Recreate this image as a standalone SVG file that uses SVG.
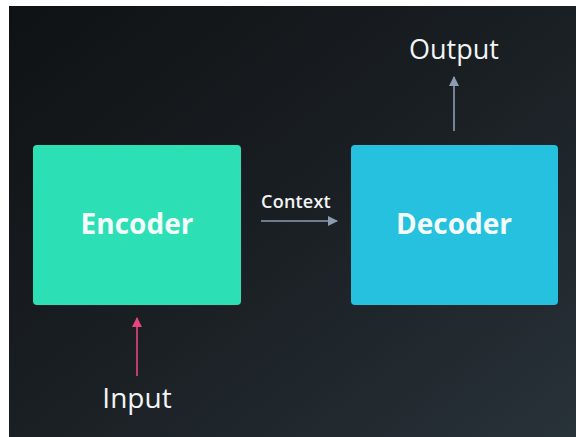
<svg xmlns="http://www.w3.org/2000/svg" width="576" height="437" viewBox="0 0 576 437">
<defs>
<linearGradient id="bg" x1="0" y1="0" x2="1" y2="1">
<stop offset="0" stop-color="#0f1215"/>
<stop offset="0.5" stop-color="#1a1f23"/>
<stop offset="1" stop-color="#283239"/>
</linearGradient>
<marker id="ahGray" viewBox="0 0 10 10" refX="9" refY="5" markerWidth="10" markerHeight="10" markerUnits="userSpaceOnUse" orient="auto"><path d="M0,0 L10,5 L0,10 z" fill="#8c9cb3"/></marker>
<marker id="ahPink" viewBox="0 0 10 10" refX="9" refY="5" markerWidth="10" markerHeight="10" markerUnits="userSpaceOnUse" orient="auto"><path d="M0,0 L10,5 L0,10 z" fill="#e8457f"/></marker>
</defs>
<style>
.lbl{font-family:"Open Sans","Noto Sans",sans-serif;fill:#f2f4f5}
.box{font-family:"Open Sans","Noto Sans",sans-serif;font-weight:bold;font-size:28px;fill:#f4fbfb}
.gray{stroke:#8c9cb3;stroke-width:1.6;fill:none}
.pink{stroke:#e8457f;stroke-width:1.6;fill:none}
</style>
<rect width="576" height="437" fill="#ffffff"/>
<rect x="9" y="6" width="567" height="431" fill="url(#bg)"/>
<g id="encoder">
<rect x="33" y="145" width="208" height="160" rx="4" fill="#2cdfb4"/>
<text class="box" x="137" y="234" text-anchor="middle">Encoder</text>
</g>
<g id="decoder">
<rect x="351" y="145" width="207" height="160" rx="4" fill="#25c1de"/>
<text class="box" x="454" y="234" text-anchor="middle">Decoder</text>
</g>
<g id="input">
<text class="lbl" x="137" y="408" font-size="28" text-anchor="middle">Input</text>
</g>
<g id="output">
<text class="lbl" x="454" y="59" font-size="27" text-anchor="middle">Output</text>
</g>
<g id="context-label">
<text class="lbl" x="296" y="208" font-size="18" font-weight="600" letter-spacing="0.2" text-anchor="middle">Context</text>
</g>
<g id="connectors">
<line class="gray" x1="261" y1="221" x2="337" y2="221" marker-end="url(#ahGray)"/>
<line class="gray" x1="454" y1="131" x2="454" y2="77" marker-end="url(#ahGray)"/>
<line class="pink" x1="137" y1="376" x2="137" y2="318" marker-end="url(#ahPink)"/>
</g>
</svg>
